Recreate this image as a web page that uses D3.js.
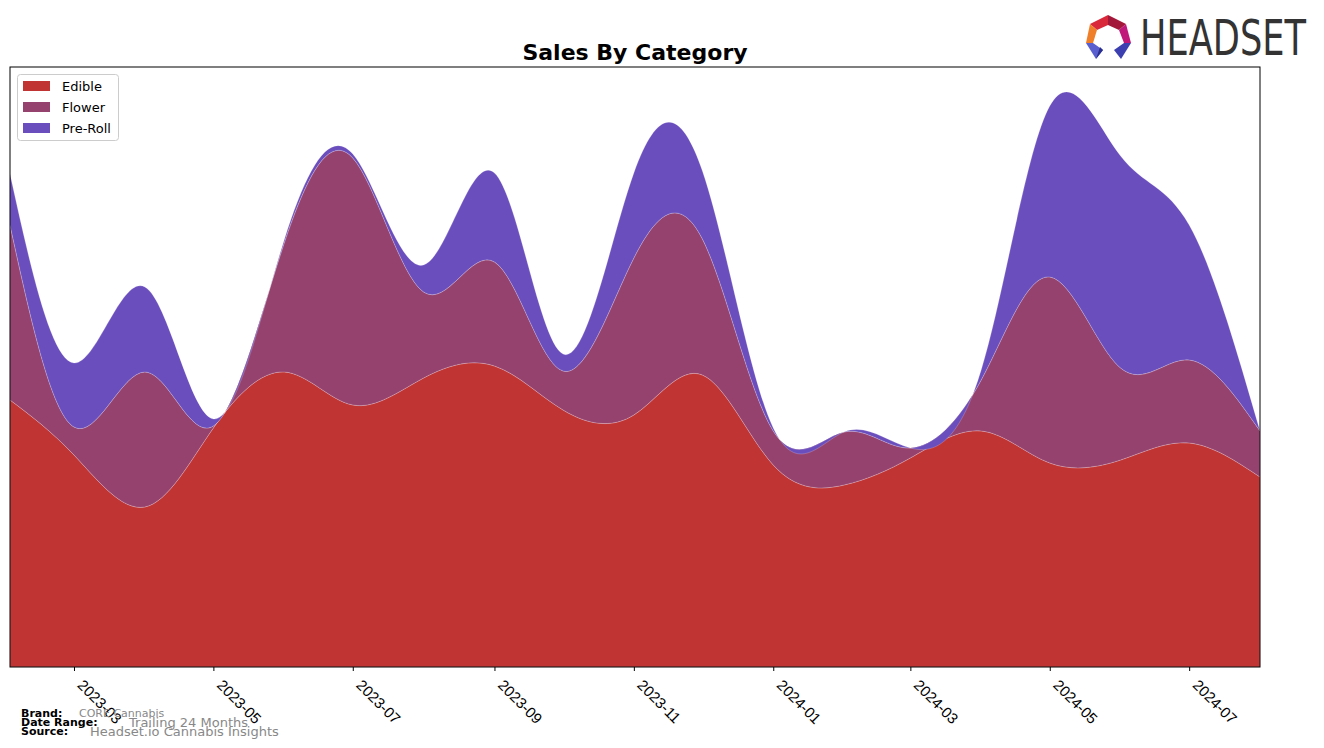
<!DOCTYPE html>
<html><head><meta charset="utf-8">
<script src="https://cdn.jsdelivr.net/npm/d3@7"></script>
<style>
body{margin:0;background:#fff;}
svg{display:block;font-family:"DejaVu Sans",sans-serif;}
</style></head>
<body><svg id="chart" width="1324" height="748"></svg>
<script>
const months = ["2023-02","2023-03","2023-04","2023-05","2023-06","2023-07","2023-08","2023-09","2023-10","2023-11","2023-12","2024-01","2024-02","2024-03","2024-04","2024-05","2024-06","2024-07","2024-08"];
const edible  = [267,212,160,239,295,262,289,301,257,252,292,202,182,209,236,204,207,224,190];
const flower  = [175, 28,135,  2,129,247, 86,104, 39,157,136, 34, 53, 10, 51,186, 92, 83, 46];
const preroll = [ 51, 64, 85,  7,  3,  4, 27, 89, 17, 85, 68,  3,  0,  0, 10,171,212,135,  0];
const tickLabels = ["2023-03","2023-05","2023-07","2023-09","2023-11","2024-01","2024-03","2024-05","2024-07"];
const seriesNames = ["Edible","Flower","Pre-Roll"];
const colors = ["#c13434","#96426f","#6a4ebd"];

const svg = d3.select("#chart");
const L = 10, R = 1260, T = 67, B = 667;
const parse = d3.timeParse("%Y-%m");
const dates = months.map(parse);
const x = d3.scaleTime().domain([dates[0], dates[dates.length-1]]).range([L, R]);
const y = d3.scaleLinear().domain([0, 600]).range([B, T]);

const seriesVals = [edible, flower, preroll];
const cum = [];
let run = months.map(() => 0);
seriesVals.forEach(s => {
  const lower = run.slice();
  run = run.map((v, i) => v + s[i]);
  cum.push({lower, upper: run.slice()});
});

svg.append("defs").append("clipPath").attr("id","clip")
  .append("rect").attr("x",L).attr("y",T).attr("width",R-L).attr("height",B-T);

const g = svg.append("g").attr("clip-path","url(#clip)");
cum.forEach((c, k) => {
  const area = d3.area()
    .x((d, i) => x(dates[i]))
    .y0((d, i) => y(c.lower[i]))
    .y1((d, i) => y(c.upper[i]))
    .curve(d3.curveNatural);
  g.append("path").datum(months).attr("d", area)
    .attr("fill", colors[k]).attr("stroke", "rgba(255,255,255,0.25)").attr("stroke-width", 0.8);
});

// frame
svg.append("rect").attr("x",L).attr("y",T).attr("width",R-L).attr("height",B-T)
  .attr("fill","none").attr("stroke","#000").attr("stroke-width",1);

// x axis
const ax = svg.append("g").attr("transform",`translate(0,${B})`)
  .call(d3.axisBottom(x).tickValues(tickLabels.map(parse)).tickFormat(d3.timeFormat("%Y-%m")).tickSize(4).tickSizeOuter(0));
ax.select(".domain").remove();
ax.selectAll("line").attr("stroke","#000");
ax.selectAll("text").attr("font-size",15).attr("fill","#000")
  .attr("text-anchor","start").attr("dy",0).attr("y",0)
  .attr("transform","translate(2,19) rotate(45)");

// title
svg.append("text").attr("x",635).attr("y",60).attr("text-anchor","middle")
  .attr("font-size",22).attr("font-weight","bold").text("Sales By Category");

// legend
const lg = svg.append("g");
lg.append("rect").attr("x",17.5).attr("y",74.5).attr("width",101).attr("height",66).attr("rx",3)
  .attr("fill","#fff").attr("stroke","#ccc");
seriesNames.forEach((n, i) => {
  lg.append("rect").attr("x",23).attr("y",81 + i*21).attr("width",27).attr("height",10).attr("fill",colors[i]);
  lg.append("text").attr("x",62).attr("y",91 + i*21).attr("font-size",13).text(n);
});

// footer
const ft = svg.append("g");
ft.append("text").attr("x",21).attr("y",717).attr("font-size",11).attr("font-weight","bold").text("Brand:");
ft.append("text").attr("x",79).attr("y",717).attr("font-size",11).attr("fill","#888").text("CORE Cannabis");
ft.append("text").attr("x",21).attr("y",726).attr("font-size",11).attr("font-weight","bold").text("Date Range:");
ft.append("text").attr("x",129).attr("y",727).attr("font-size",13).attr("fill","#888").text("Trailing 24 Months");
ft.append("text").attr("x",21).attr("y",735).attr("font-size",11).attr("font-weight","bold").text("Source:");
ft.append("text").attr("x",90).attr("y",736).attr("font-size",13).attr("fill","#888").text("Headset.io Cannabis Insights");

// logo
const lo = svg.append("g");
const polys = [
  {p:[[1090,24],[1108,15],[1108,25],[1097,30]], c:"#d8283a"},
  {p:[[1108,15],[1126,24],[1119,30],[1108,25]], c:"#a3173a"},
  {p:[[1126,24],[1131,43],[1124,43],[1119,30]], c:"#c0187a"},
  {p:[[1090,24],[1097,30],[1093,43],[1086,43]], c:"#f07f2a"},
  {p:[[1086,43],[1093,43],[1103,50],[1096,59]], c:"#5a5fd0"},
  {p:[[1096,59],[1103,50],[1100,47]], c:"#2a2f8f"},
  {p:[[1131,43],[1124,43],[1114,50],[1121,59]], c:"#3b3fb0"},
];
polys.forEach(o => lo.append("polygon").attr("points", o.p.map(q=>q.join(",")).join(" ")).attr("fill", o.c));
lo.append("text").attr("x",1140).attr("y",55).attr("font-size",50)
  .attr("font-family","'DejaVu Sans Condensed','Liberation Sans Narrow',sans-serif")
  .attr("fill","#333").attr("textLength",166).attr("lengthAdjust","spacingAndGlyphs").text("HEADSET");
</script></body></html>
